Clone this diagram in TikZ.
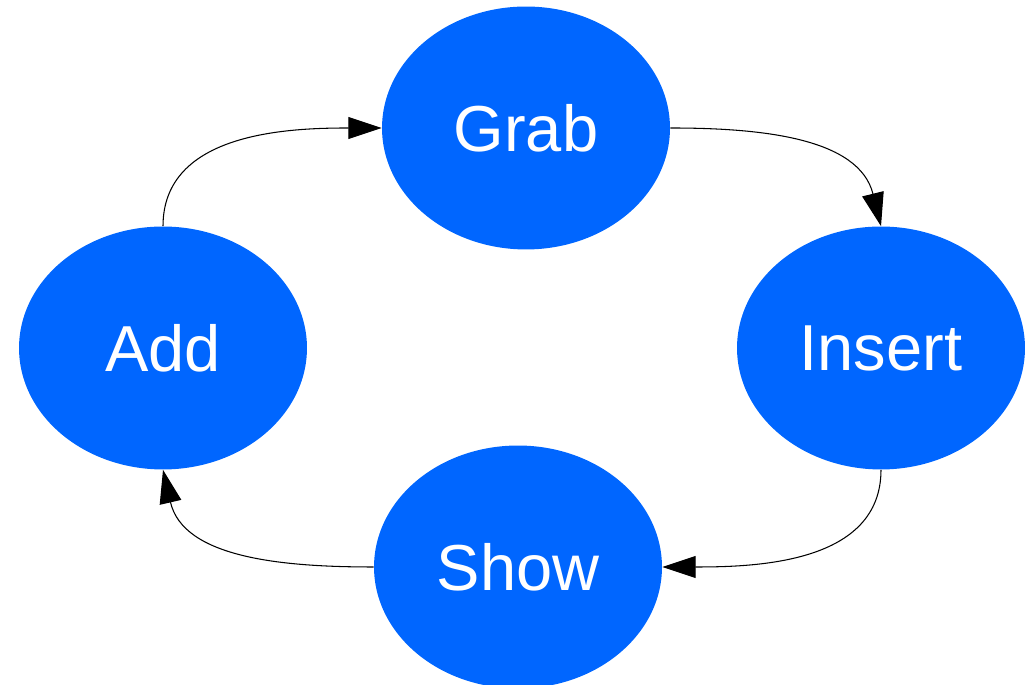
\documentclass[tikz,border=0pt]{standalone}
\usepackage{fontspec}
\setmainfont{Liberation Sans}
\usetikzlibrary{shapes.geometric,arrows.meta}
\definecolor{stateblue}{HTML}{0066FF}

\begin{document}
\begin{tikzpicture}[x=0.02cm, y=0.02cm,
    state/.style={ellipse, fill=stateblue, text=white, inner sep=0pt,
      minimum width=5.76cm, minimum height=4.86cm,
      font=\fontsize{37}{44}\selectfont},
    flow/.style={line width=0.6pt, -{Triangle[length=19pt, width=12.5pt]}}]
  \useasboundingbox (0, 0) rectangle (1031, 685);

  \node[state] (grab) at (526, 557) {Grab};
  \node[state] (add) at (163, 337) {Add};
  \node[state] (insert) at (881, 337) {Insert};
  \node[state] (show) at (518, 118) {Show};

  \draw[flow] (add.north) to[out=90, in=180] (grab.west);
  \draw[flow] (grab.east) to[out=0, in=104] (insert.north);
  \draw[flow] (insert.south) to[out=-90, in=0] (show.east);
  \draw[flow] (show.west) to[out=180, in=-77] (add.south);
\end{tikzpicture}
\end{document}
